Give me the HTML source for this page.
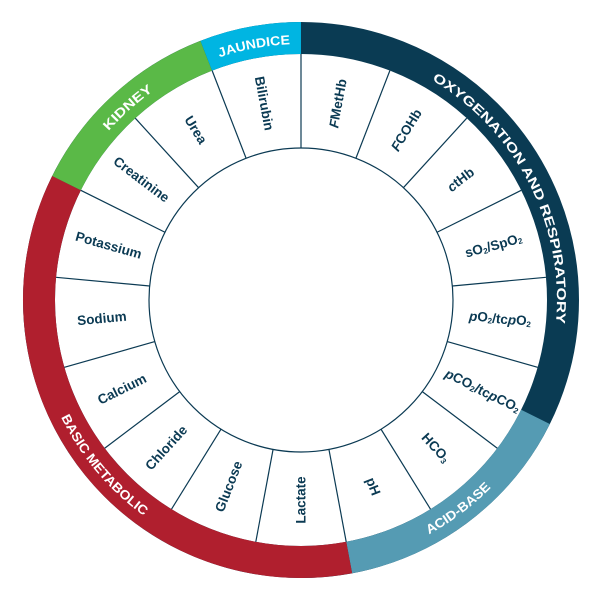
<!DOCTYPE html>
<html><head><meta charset="utf-8"><style>
html,body{margin:0;padding:0;background:#fff;width:600px;height:600px;overflow:hidden;}
svg{display:block;}
.l{font-family:"Liberation Sans",sans-serif;font-weight:bold;font-size:13.5px;fill:#0b3a53;}
.r{font-family:"Liberation Sans",sans-serif;font-weight:bold;font-size:13px;fill:#fff;}
.s{font-size:8px;}
</style></head><body>
<svg width="600" height="600" viewBox="0 0 600 600" xmlns="http://www.w3.org/2000/svg">
<defs>
<path id="pOxy" d="M336.6,46.5 A256,256 0 0 1 527,420.2"/>
<path id="pJau" d="M173,78.3 A256,256 0 0 1 341,47.2"/>
<path id="pKid" d="M60.4,212.4 A256,256 0 0 1 239.1,51.6"/>
<path id="pAcid" d="M347.4,562.9 A267,267 0 0 0 541,417"/>
<path id="pBas" d="M34,300 A267,267 0 0 0 254.6,562.9"/>
</defs>
<g transform="translate(301,300)">
<circle r="262" fill="none" stroke="#0a3b53" stroke-width="32"/>
<circle r="262" fill="none" stroke="#559bb3" stroke-width="32" stroke-dasharray="241.9 2000" transform="rotate(26.5)"/>
<circle r="262" fill="none" stroke="#b01f2e" stroke-width="32" stroke-dasharray="581.2 2000" transform="rotate(79.4)"/>
<circle r="262" fill="none" stroke="#5ab947" stroke-width="32" stroke-dasharray="193.4 2000" transform="rotate(206.5)"/>
<circle r="262" fill="none" stroke="#00b5e2" stroke-width="32" stroke-dasharray="96.9 2000" transform="rotate(248.8)"/>
<circle r="152" fill="none" stroke="#0b3a53" stroke-width="1.2"/>
<g stroke="#0b3a53" stroke-width="1.2">
<line x1="0" y1="-152" x2="0" y2="-246" transform="rotate(0)"/>
<line x1="0" y1="-152" x2="0" y2="-246" transform="rotate(21.176)"/>
<line x1="0" y1="-152" x2="0" y2="-246" transform="rotate(42.353)"/>
<line x1="0" y1="-152" x2="0" y2="-246" transform="rotate(63.529)"/>
<line x1="0" y1="-152" x2="0" y2="-246" transform="rotate(84.706)"/>
<line x1="0" y1="-152" x2="0" y2="-246" transform="rotate(105.882)"/>
<line x1="0" y1="-152" x2="0" y2="-246" transform="rotate(127.059)"/>
<line x1="0" y1="-152" x2="0" y2="-246" transform="rotate(148.235)"/>
<line x1="0" y1="-152" x2="0" y2="-246" transform="rotate(169.412)"/>
<line x1="0" y1="-152" x2="0" y2="-246" transform="rotate(190.588)"/>
<line x1="0" y1="-152" x2="0" y2="-246" transform="rotate(211.765)"/>
<line x1="0" y1="-152" x2="0" y2="-246" transform="rotate(232.941)"/>
<line x1="0" y1="-152" x2="0" y2="-246" transform="rotate(254.118)"/>
<line x1="0" y1="-152" x2="0" y2="-246" transform="rotate(275.294)"/>
<line x1="0" y1="-152" x2="0" y2="-246" transform="rotate(296.471)"/>
<line x1="0" y1="-152" x2="0" y2="-246" transform="rotate(317.647)"/>
<line x1="0" y1="-152" x2="0" y2="-246" transform="rotate(338.824)"/>
</g>
<g class="l" text-anchor="middle" dominant-baseline="central">
<text transform="rotate(10.59) translate(0,-200) rotate(-90)"><tspan font-style="italic">F</tspan>MetHb</text>
<text transform="rotate(31.76) translate(0,-200) rotate(-90)"><tspan font-style="italic">F</tspan>COHb</text>
<text transform="rotate(52.94) translate(0,-200) rotate(-90)"><tspan font-style="italic">c</tspan>tHb</text>
<text transform="rotate(74.12) translate(0,-200) rotate(-90)">sO<tspan class="s" dy="3">2</tspan><tspan dy="-3">/SpO</tspan><tspan class="s" dy="3">2</tspan></text>
<text transform="rotate(95.29) translate(0,-200) rotate(-90)"><tspan font-style="italic">p</tspan>O<tspan class="s" dy="3">2</tspan><tspan dy="-3">/tc</tspan><tspan font-style="italic">p</tspan>O<tspan class="s" dy="3">2</tspan></text>
<text transform="rotate(116.47) translate(0,-203) rotate(-90)"><tspan font-style="italic">p</tspan>CO<tspan class="s" dy="3">2</tspan><tspan dy="-3">/tc</tspan><tspan font-style="italic">p</tspan>CO<tspan class="s" dy="3">2</tspan></text>
<text transform="rotate(137.65) translate(0,-200) rotate(-90)">HCO<tspan class="s" dy="3">3</tspan></text>
<text transform="rotate(158.82) translate(0,-200) rotate(-90)">pH</text>
<text transform="rotate(180) translate(0,-200) rotate(90)">Lactate</text>
<text transform="rotate(201.18) translate(0,-200) rotate(90)">Glucose</text>
<text transform="rotate(222.35) translate(0,-200) rotate(90)">Chloride</text>
<text transform="rotate(243.53) translate(0,-200) rotate(90)">Calcium</text>
<text transform="rotate(264.71) translate(0,-200) rotate(90)">Sodium</text>
<text transform="rotate(285.88) translate(0,-200) rotate(90)">Potassium</text>
<text transform="rotate(307.06) translate(0,-200) rotate(90)">Creatinine</text>
<text transform="rotate(328.24) translate(0,-200) rotate(90)">Urea</text>
<text transform="rotate(349.41) translate(0,-200) rotate(90)">Bilirubin</text>
</g>
</g>
<g class="r" text-anchor="middle">
<text><textPath href="#pOxy" startOffset="50%" textLength="288" lengthAdjust="spacingAndGlyphs">OXYGENATION AND RESPIRATORY</textPath></text>
<text><textPath href="#pJau" startOffset="50%" textLength="72" lengthAdjust="spacingAndGlyphs">JAUNDICE</textPath></text>
<text><textPath href="#pKid" startOffset="50%" textLength="60" lengthAdjust="spacingAndGlyphs">KIDNEY</textPath></text>
<text><textPath href="#pAcid" startOffset="50%" textLength="78" lengthAdjust="spacingAndGlyphs">ACID-BASE</textPath></text>
<text><textPath href="#pBas" startOffset="50%" textLength="130" lengthAdjust="spacingAndGlyphs">BASIC METABOLIC</textPath></text>
</g>
</svg>
</body></html>
